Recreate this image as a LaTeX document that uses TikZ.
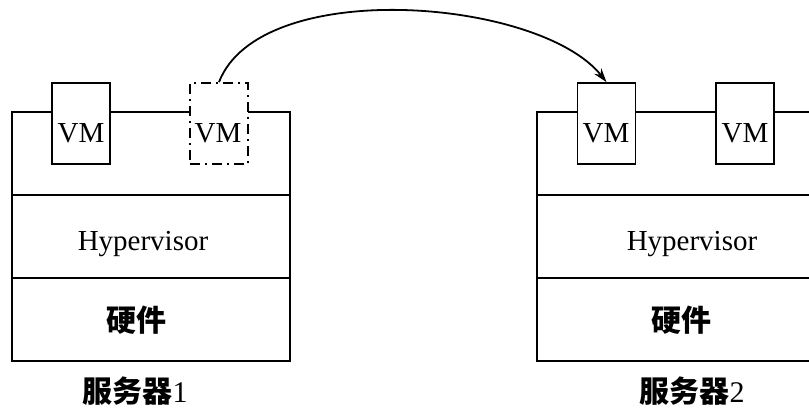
\documentclass[tikz,border=0pt]{standalone}
\usepackage{fontspec}
\setmainfont{Liberation Serif}
\newfontfamily\cjk{Noto Sans CJK SC}
\usetikzlibrary{arrows.meta}

\tikzset{
    layerbox/.style={draw, line width=1.8pt, minimum width=278pt, minimum height=83pt, inner sep=0pt},
    vmbox/.style={draw, fill=white, line width=1.8pt, minimum width=58pt, minimum height=81pt, inner sep=0pt},
    vmghost/.style={vmbox, dash pattern=on 10pt off 5pt on 2pt off 5pt},
    txt/.style={font=\fontsize{29}{29}\selectfont},
    cjktxt/.style={font=\fontsize{30}{30}\selectfont\cjk\bfseries, inner sep=0pt},
    migrate/.style={line width=1.8pt, -{Stealth[length=14pt,width=9pt]}},
}

\begin{document}
\begin{tikzpicture}[x=1pt, y=-1pt]
    \useasboundingbox (0,0) rectangle (809,409);
    \clip (0,0) rectangle (809,409);

    % Server 1: three stacked layers
    \node[layerbox] (top1) at (151,153.5) {};
    \node[layerbox] (hyp1) at (151,236.5) {};
    \node[layerbox] (hw1)  at (151,319.5) {};
    \node[txt, anchor=base] (hyptxt1) at (143,250) {Hypervisor};
    \node[cjktxt] (hwtxt1) at (136,320) {硬件};
    \node[cjktxt] (name1) at (135,391) {服务器{\normalfont\fontsize{30}{30}\selectfont 1}};

    % Server 2 (runs off the right edge)
    \node[layerbox] (top2) at (676,153.5) {};
    \node[layerbox] (hyp2) at (676,236.5) {};
    \node[layerbox] (hw2)  at (676,319.5) {};
    \node[txt, anchor=base] (hyptxt2) at (692,250) {Hypervisor};
    \node[cjktxt] (hwtxt2) at (681,320) {硬件};
    \node[cjktxt] (name2) at (692,391) {服务器{\normalfont\fontsize{30}{30}\selectfont 2}};

    % Virtual machines sitting on the top edge
    \node[vmbox]   (vm11) at (81,123.5) {};
    \node[vmghost] (vm12) at (219,123.5) {};
    \node[vmbox]   (vm21) at (606.5,123.5) {};
    \node[vmbox]   (vm22) at (745,123.5) {};
    \foreach \n/\x in {vm11/81, vm12/218, vm21/606, vm22/745} {
        \node[txt, anchor=base] (\n txt) at (\x,143) {VM};
    }

    % Live migration
    \draw[migrate] (vm12.north) .. controls +(41,-106) and +(-67,-84) .. (vm21.north);
\end{tikzpicture}
\end{document}
